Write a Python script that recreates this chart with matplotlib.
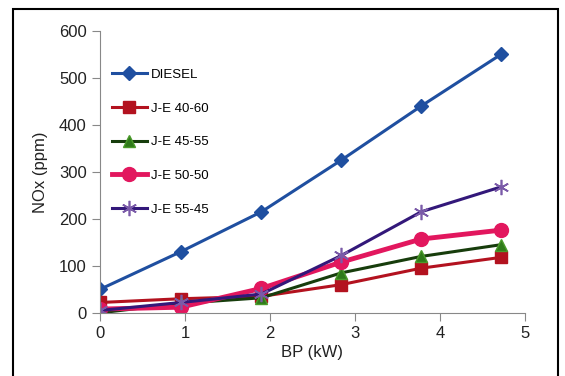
import matplotlib
matplotlib.use("Agg")
import matplotlib.pyplot as plt
from matplotlib.patches import Rectangle

plt.rcParams["font.family"] = ["Liberation Sans", "DejaVu Sans"]

bp = [0, 0.95, 1.9, 2.84, 3.78, 4.72]
diesel = [50, 130, 215, 325, 440, 550]
je_40_60 = [22, 30, 35, 60, 95, 118]
je_45_55 = [0, 20, 32, 85, 120, 145]
je_50_50 = [8, 12, 52, 108, 157, 176]
je_55_45 = [5, 22, 40, 122, 215, 268]

fig = plt.figure(figsize=(5.65, 3.76), dpi=100)
ax = fig.add_axes([0.177, 0.168, 0.752, 0.75])

ax.plot(bp, diesel, color="#1f4fa0", lw=2.2, marker="D", ms=7,
        label="DIESEL")
ax.plot(bp, je_40_60, color="#b3121f", lw=2.2, marker="s", ms=9,
        label="J-E 40-60")
ax.plot(bp, je_45_55, color="#173d0c", lw=2.2, marker="^", ms=8,
        mfc="#2f7a1a", mec="#4a9a2a", label="J-E 45-55")
ax.plot(bp, je_50_50, color="#e2175e", lw=3.5, marker="o", ms=10,
        label="J-E 50-50")
ax.plot(bp, je_55_45, color="#33187a", lw=2.2, marker=(6, 2, 0), ms=11,
        mec="#7a5aa8", mew=1.2, label="J-E 55-45")

ax.set_xlim(0, 5)
ax.set_ylim(0, 600)
ax.set_xticks(range(0, 6))
ax.set_yticks(range(0, 601, 100))
for s in ["top", "right"]:
    ax.spines[s].set_visible(False)
for s in ["left", "bottom"]:
    ax.spines[s].set_color("#888888")
ax.tick_params(colors="#888888", labelcolor="#222222", labelsize=12,
               direction="out", length=6)
ax.set_xlabel("BP (kW)", fontsize=12, color="#222222", labelpad=3)
ax.set_ylabel("NOx (ppm)", fontsize=12, color="#222222", labelpad=8)

ax.legend(loc="upper left", bbox_to_anchor=(0.0, 0.908), frameon=False,
          fontsize=9.5, handlelength=2.65, labelspacing=1.63,
          handletextpad=0.3)

fig.patches.append(Rectangle((13 / 565, -0.1), 545 / 565, 1 - 9 / 376 + 0.1,
                             transform=fig.transFigure, fill=False,
                             ec="black", lw=1.5))

fig.savefig("out.png", dpi=100)
